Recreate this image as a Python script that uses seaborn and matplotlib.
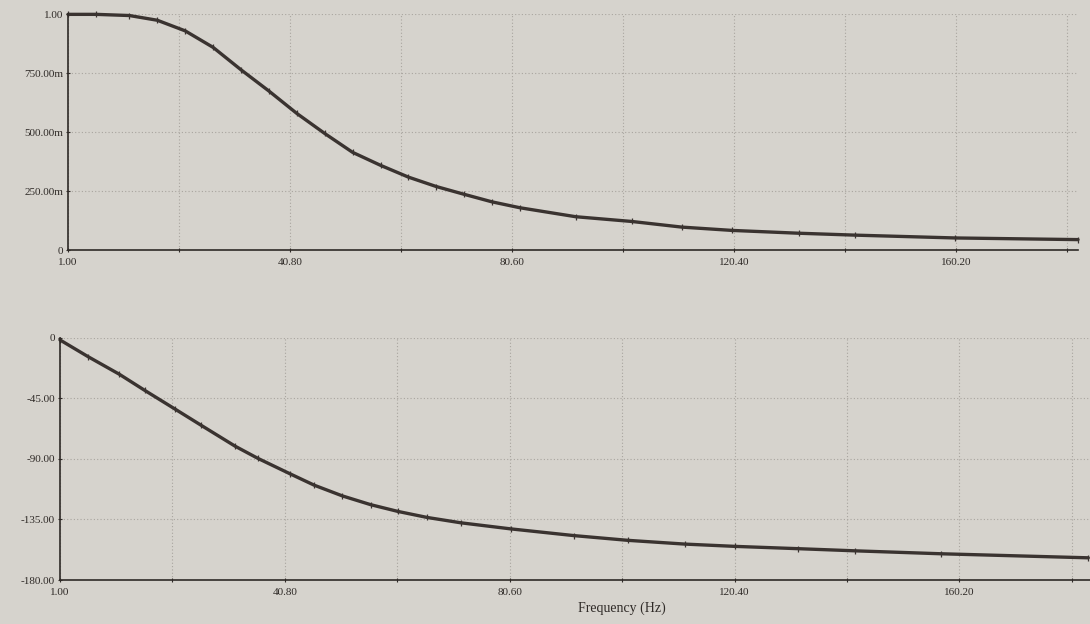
import numpy as np
import pandas as pd
import seaborn as sns
import matplotlib.pyplot as plt
from matplotlib.ticker import FixedLocator, FixedFormatter

# magnitude response (linear gain)
freq_mag = [1, 6, 12, 17, 22, 27, 32, 37, 42, 47, 52, 57, 62, 67, 72, 77, 82,
            92, 102, 111, 120, 132, 142, 160, 182]
mag = [1.0, 1.0, 0.995, 0.975, 0.93, 0.86, 0.765, 0.675, 0.58, 0.495, 0.415, 0.36,
       0.31, 0.27, 0.237, 0.205, 0.18, 0.142, 0.122, 0.098, 0.084, 0.072, 0.064,
       0.052, 0.045]

# phase response (degrees)
freq_ph = [1, 6, 11.5, 16, 21.4, 26, 32, 36, 41.7, 46, 51, 56, 60.8, 66, 72,
           80.8, 92, 101.5, 111.6, 120.5, 131.6, 141.7, 157, 183]
phase = [-1.5, -14, -27, -39, -53, -65, -80.5, -89.5, -101, -109.5, -117.5, -124,
         -129, -133.5, -137.5, -142, -147, -150.5, -153.3, -155, -156.7, -158.3,
         -160.5, -163.5]

x_ticks = [1.00, 40.80, 80.60, 120.40, 160.20]
x_labels = ["1.00", "40.80", "80.60", "120.40", "160.20"]
x_minor = [20.90, 60.70, 100.50, 140.30, 180.10]

mag_ticks = [0, 0.25, 0.5, 0.75, 1.0]
mag_labels = ["0", "250.00m", "500.00m", "750.00m", "1.00"]

ph_ticks = [-180, -135, -90, -45, 0]
ph_labels = ["-180.00", "-135.00", "-90.00", "-45.00", "0"]

df_mag = pd.DataFrame({"freq": freq_mag, "mag": mag})
df_ph = pd.DataFrame({"freq": freq_ph, "phase": phase})

sns.set_theme(style="ticks")
plt.rcParams["font.family"] = ["Liberation Serif", "DejaVu Serif"]

bg = "#d6d3cd"
ink = "#2f2a27"
line_col = "#3a3330"
grid_col = "#a9a59f"

fig = plt.figure(figsize=(10.9, 6.24), dpi=100, facecolor=bg)
ax1 = fig.add_axes([0.0624, 0.599, 0.9266, 0.378])
ax2 = fig.add_axes([0.055, 0.0705, 0.945, 0.388])


def style_axis(ax, xmax, yticks, ylabels, ylim):
    ax.set_facecolor(bg)
    ax.set_xlim(1, xmax)
    ax.set_ylim(*ylim)
    ax.xaxis.set_major_locator(FixedLocator(x_ticks))
    ax.xaxis.set_major_formatter(FixedFormatter(x_labels))
    ax.xaxis.set_minor_locator(FixedLocator(x_minor))
    ax.yaxis.set_major_locator(FixedLocator(yticks))
    ax.yaxis.set_major_formatter(FixedFormatter(ylabels))
    ax.grid(True, which="both", axis="x", color=grid_col, linestyle=(0, (1, 2)), linewidth=0.8)
    ax.grid(True, which="major", axis="y", color=grid_col, linestyle=(0, (1, 2)), linewidth=0.8)
    for s in ["top", "right"]:
        ax.spines[s].set_visible(False)
    for s in ["left", "bottom"]:
        ax.spines[s].set_color(ink)
        ax.spines[s].set_linewidth(1.2)
    ax.tick_params(axis="both", which="both", colors=ink, labelsize=8, length=3,
                   width=0.8, direction="inout", pad=2)
    ax.tick_params(axis="x", which="major", pad=4)
    ax.set_xlabel("")
    ax.set_ylabel("")


line_kw = dict(color=line_col, linewidth=2.4, marker="|", markersize=5,
               markeredgewidth=0.9, markeredgecolor=line_col, clip_on=False)

sns.lineplot(data=df_mag, x="freq", y="mag", ax=ax1, **line_kw)
style_axis(ax1, 182, mag_ticks, mag_labels, (0, 1.0))

sns.lineplot(data=df_ph, x="freq", y="phase", ax=ax2, **line_kw)
style_axis(ax2, 183.3, ph_ticks, ph_labels, (-180, 0))

# axis label centred on the full 1..200 Hz sweep
ax2.set_xlabel("Frequency (Hz)", fontsize=10, color=ink)
ax2.xaxis.set_label_coords((100.5 - 1) / (183.3 - 1), -0.09)

fig.savefig("out.png", dpi=100, facecolor=bg)
